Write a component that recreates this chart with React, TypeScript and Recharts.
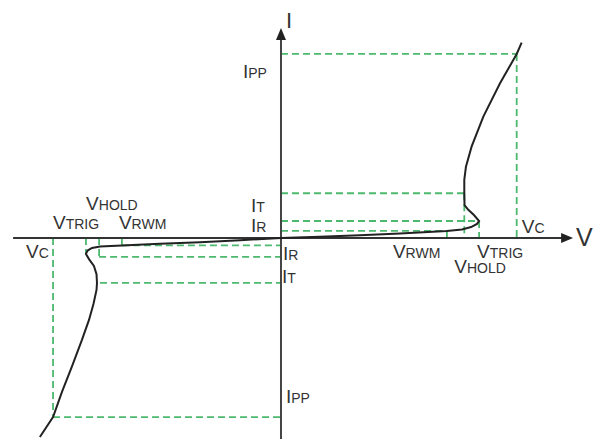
import React from "react";
import { LineChart, Line, XAxis, YAxis, ReferenceLine, ReferenceDot } from "recharts";

// Characteristic curve of the TVS device (V, I in arbitrary units)
const curveV = [
  -10.26, -9.7, -9.32, -8.89, -8.47, -8.17, -7.98, -7.85, -7.83, -7.85, -7.96, -8.17, -8.3, -8.23, -8.04,
  -7.7, -6.77, -5.15, -3.45, -1.74, 0, 1.66, 3.36, 5.06, 7.06, 7.7, 8.09, 8.34, 8.43, 8.21, 7.96, 7.81,
  7.8, 7.8, 7.87, 8.11, 8.61, 9.32, 10.03, 10.24,
];
const curveI = [
  -10.76, -9.68, -8.32, -6.92, -5.51, -4.43, -3.57, -2.81, -2.43, -1.95, -1.51, -1.14, -0.86, -0.68, -0.54,
  -0.46, -0.4, -0.31, -0.23, -0.12, 0, 0.07, 0.15, 0.24, 0.38, 0.46, 0.59, 0.76, 0.92, 1.24, 1.54, 1.78,
  2.42, 3.14, 3.85, 4.94, 6.56, 8.36, 9.95, 10.56,
];

// Positive-side characteristic voltages / currents
const posV = { RWM: 7.06, HOLD: 7.8, TRIG: 8.43, C: 10.03 };
const posI = { R: 0.38, TRIG: 0.92, T: 2.42, PP: 9.95 };
// Negative-side characteristic voltages / currents
const negV = { RWM: -6.77, HOLD: -7.74, TRIG: -8.3, C: -9.7, KNEE: -7.7 };
const negI = { R: -0.4, TRIG: -1.02, KNEE: -0.86, T: -2.43, PP: -9.68 };

// Axis extents
const vDomain = [-11.957, 13.745];
const iDomain = [-10.865, 12.865];
const vAxis = [-11.4, 12.43];
const iAxis = [-10.865, 11.35];

const curveData = curveV.map((v, k) => ({ v, i: curveI[k] }));

const GREEN = "#4cb96e";
const TEXT = "#333";
const FONT = "'Liberation Sans', Arial, sans-serif";

const SubLabel = (main: string, sub: string, dx: number, dy: number, size = 19) => (p: any) => (
  <text x={p.cx + dx} y={p.cy + dy} fill={TEXT} fontFamily={FONT} fontSize={size}>
    <tspan>{main}</tspan>
    {sub ? <tspan fontSize={14}>{sub}</tspan> : null}
  </text>
);

const ArrowRight = (p: any) => (
  <polygon points={`${p.cx},${p.cy} ${p.cx - 12},${p.cy - 5} ${p.cx - 12},${p.cy + 5}`} fill="#222" />
);
const ArrowUp = (p: any) => (
  <polygon points={`${p.cx},${p.cy} ${p.cx - 5},${p.cy + 12} ${p.cx + 5},${p.cy + 12}`} fill="#222" />
);

type Seg = [number, number, number, number];
const guides: Seg[] = [
  [0, posI.PP, posV.C, posI.PP],
  [posV.C, posI.PP, posV.C, 0],
  [0, posI.T, posV.HOLD, posI.T],
  [posV.HOLD, posI.T, posV.HOLD, 0],
  [0, posI.TRIG, posV.TRIG, posI.TRIG],
  [posV.TRIG, posI.TRIG, posV.TRIG, 0],
  [0, posI.R, posV.RWM, posI.R],
  [posV.RWM, posI.R, posV.RWM, 0],
  [negV.C, 0, negV.C, negI.PP],
  [negV.C, negI.PP, 0, negI.PP],
  [negV.TRIG, 0, negV.TRIG, negI.KNEE],
  [negV.HOLD, 0, negV.HOLD, negI.TRIG],
  [negV.HOLD, negI.TRIG, 0, negI.TRIG],
  [negV.RWM, 0, negV.RWM, negI.R],
  [negV.RWM, negI.R, 0, negI.R],
  [negV.KNEE, negI.T, 0, negI.T],
];

export default function App() {
  return (
    <div style={{ position: "absolute", left: 0, top: 0, width: 604, height: 439, background: "#fff" }}>
      <LineChart width={604} height={439} data={curveData} margin={{ top: 0, right: 0, bottom: 0, left: 0 }}>
        <XAxis type="number" dataKey="v" domain={vDomain} allowDataOverflow hide />
        <YAxis type="number" dataKey="i" domain={iDomain} allowDataOverflow hide />
        {guides.map((g, k) => (
          <ReferenceLine
            key={k}
            segment={[{ x: g[0], y: g[1] }, { x: g[2], y: g[3] }]}
            stroke={GREEN}
            strokeWidth={1.8}
            strokeDasharray="7 4"
            ifOverflow="visible"
          />
        ))}
        <ReferenceLine segment={[{ x: vAxis[0], y: 0 }, { x: vAxis[1] - 0.3, y: 0 }]} stroke="#333" strokeWidth={2} ifOverflow="visible" />
        <ReferenceLine segment={[{ x: 0, y: iAxis[0] }, { x: 0, y: iAxis[1] - 0.4 }]} stroke="#444" strokeWidth={2} ifOverflow="visible" />
        <ReferenceDot x={vAxis[1]} y={0} r={1} shape={ArrowRight} ifOverflow="visible" />
        <ReferenceDot x={0} y={iAxis[1]} r={1} shape={ArrowUp} ifOverflow="visible" />
        <Line
          dataKey="i"
          type="linear"
          stroke="#222"
          strokeWidth={2}
          dot={false}
          activeDot={false}
          isAnimationActive={false}
        />
        {/* axis titles */}
        <ReferenceDot x={vAxis[1]} y={0} r={1} shape={SubLabel("V", "", 3, 8, 25)} ifOverflow="visible" />
        <ReferenceDot x={0} y={iAxis[1]} r={1} shape={SubLabel("I", "", 5, 0, 22)} ifOverflow="visible" />
        {/* positive side labels */}
        <ReferenceDot x={0} y={posI.PP} r={1} shape={SubLabel("I", "PP", -38, 24)} ifOverflow="visible" />
        <ReferenceDot x={0} y={posI.T} r={1} shape={SubLabel("I", "T", -30, 19)} ifOverflow="visible" />
        <ReferenceDot x={0} y={posI.TRIG} r={1} shape={SubLabel("I", "R", -30, 11)} ifOverflow="visible" />
        <ReferenceDot x={posV.C} y={0} r={1} shape={SubLabel("V", "C", 5, -5)} ifOverflow="visible" />
        <ReferenceDot x={posV.RWM} y={0} r={1} shape={SubLabel("V", "RWM", -54, 20)} ifOverflow="visible" />
        <ReferenceDot x={posV.TRIG} y={0} r={1} shape={SubLabel("V", "TRIG", -2, 20)} ifOverflow="visible" />
        <ReferenceDot x={posV.HOLD} y={0} r={1} shape={SubLabel("V", "HOLD", -10, 35)} ifOverflow="visible" />
        {/* negative side labels */}
        <ReferenceDot x={negV.C} y={0} r={1} shape={SubLabel("V", "C", -27, 20)} ifOverflow="visible" />
        <ReferenceDot x={negV.TRIG} y={0} r={1} shape={SubLabel("V", "TRIG", -33, -9)} ifOverflow="visible" />
        <ReferenceDot x={negV.HOLD} y={0} r={1} shape={SubLabel("V", "HOLD", -13, -28)} ifOverflow="visible" />
        <ReferenceDot x={negV.RWM} y={0} r={1} shape={SubLabel("V", "RWM", -3, -9)} ifOverflow="visible" />
        <ReferenceDot x={0} y={negI.R} r={1} shape={SubLabel("I", "R", 2, 15)} ifOverflow="visible" />
        <ReferenceDot x={0} y={negI.T} r={1} shape={SubLabel("I", "T", 1, 0)} ifOverflow="visible" />
        <ReferenceDot x={0} y={negI.PP} r={1} shape={SubLabel("I", "PP", 5, -14)} ifOverflow="visible" />
      </LineChart>
    </div>
  );
}
